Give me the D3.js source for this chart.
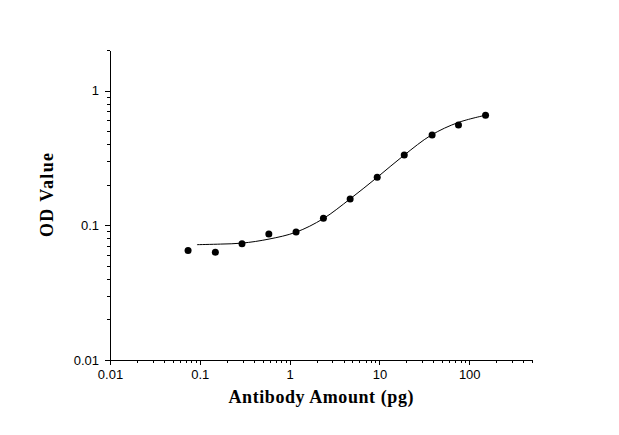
<!DOCTYPE html>
<html>
<head>
<meta charset="utf-8">
<script src="https://cdn.jsdelivr.net/npm/d3@7"></script>
<style>
  body { margin: 0; background: #fff; }
  .tick text { font-family: Arial, "Liberation Sans", sans-serif; font-size: 13px; fill: #000; }
  .title { font-family: "Liberation Serif", "Times New Roman", serif; font-weight: bold; font-size: 18px; }
</style>
</head>
<body>
<div id="chart"></div>
<script>
// measured points
var amounts = [0.074, 0.149, 0.295, 0.587, 1.18, 2.38, 4.72, 9.45, 18.9, 38.6, 75.9, 152];
var odValues = [0.065, 0.063, 0.073, 0.086, 0.089, 0.113, 0.157, 0.227, 0.332, 0.468, 0.556, 0.656];

// fitted curve
var fitX = [0.093, 0.17, 0.295, 0.59, 1.175, 2.37, 4.72, 9.53, 18.9, 37.6, 75.3, 152];
var fitY = [0.0718, 0.0725, 0.0737, 0.079, 0.0888, 0.112, 0.157, 0.228, 0.332, 0.466, 0.579, 0.656];

var xTicks = [0.01, 0.1, 1, 10, 100];
var xTickLabels = ["0.01", "0.1", "1", "10", "100"];
var yTicks = [0.01, 0.1, 1];
var yTickLabels = ["0.01", "0.1", "1"];

var margin = {
  top: 50,
  right: 87,
  bottom: 75,
  left: 110
};
var W = 619, H = 435;
var width = W - margin.left - margin.right;
var height = H - margin.top - margin.bottom;

var xScale = d3.scaleLog().domain([0.01, 500]).range([0, width]);
var yScale = d3.scaleLog().domain([0.01, 2]).range([height, 0]);

var svg = d3
  .select("#chart")
  .append("svg")
  .attr("width", W)
  .attr("height", H)
  .append("g")
  .attr("transform", "translate(" + margin.left + "," + margin.top + ")");

// minor ticks: 1..9 in every decade
function minorTicks(lo, hi) {
  var out = [];
  for (var e = Math.floor(Math.log10(lo)); Math.pow(10, e) <= hi; e++) {
    for (var k = 1; k < 10; k++) {
      var v = k * Math.pow(10, e);
      if (v >= lo * 0.999 && v <= hi * 1.001) out.push(v);
    }
  }
  return out;
}

svg
  .append("g")
  .attr("class", "x minor")
  .attr("transform", "translate(0," + height + ")")
  .call(d3.axisBottom(xScale).tickValues(minorTicks(0.01, 500)).tickSize(3).tickFormat(""))
  .call(g => g.select(".domain").remove());

svg
  .append("g")
  .attr("class", "x axis")
  .attr("transform", "translate(0," + height + ")")
  .call(d3.axisBottom(xScale).tickValues(xTicks).tickSize(5).tickPadding(5)
    .tickSizeOuter(0)
    .tickFormat((d, i) => xTickLabels[i]));

svg
  .append("g")
  .attr("class", "y minor")
  .call(d3.axisLeft(yScale).tickValues(minorTicks(0.01, 2)).tickSize(3).tickFormat(""))
  .call(g => g.select(".domain").remove());

svg
  .append("g")
  .attr("class", "y axis")
  .call(d3.axisLeft(yScale).tickValues(yTicks).tickSize(5).tickPadding(6)
    .tickSizeOuter(0)
    .tickFormat((d, i) => yTickLabels[i]));

svg.selectAll(".domain, .tick line").attr("stroke", "#000").attr("shape-rendering", "crispEdges");

// fitted line
var fit = fitX.map((x, i) => ({ x: x, y: fitY[i] }));
var line = d3
  .line()
  .x((d) => xScale(d.x))
  .y((d) => yScale(d.y))
  .curve(d3.curveCatmullRom);

svg
  .append("path")
  .datum(fit)
  .attr("fill", "none")
  .attr("stroke", "#000")
  .attr("stroke-width", 1)
  .attr("d", line);

// points
svg
  .selectAll(".dot")
  .data(amounts.map((x, i) => ({ x: x, y: odValues[i] })))
  .enter()
  .append("circle")
  .attr("class", "dot")
  .attr("cx", (d) => xScale(d.x))
  .attr("cy", (d) => yScale(d.y))
  .attr("r", 3.5)
  .attr("fill", "#000");

// axis titles
svg
  .append("text")
  .attr("class", "title")
  .attr("x", width / 2)
  .attr("y", height + 43)
  .attr("text-anchor", "middle")
  .attr("textLength", 185)
  .attr("lengthAdjust", "spacing")
  .text("Antibody Amount (pg)");

svg
  .append("text")
  .attr("class", "title")
  .attr("transform", "translate(-57," + (height / 2 - 10) + ") rotate(-90)")
  .attr("text-anchor", "middle")
  .attr("textLength", 84)
  .attr("lengthAdjust", "spacing")
  .text("OD Value");
</script>
</body>
</html>
